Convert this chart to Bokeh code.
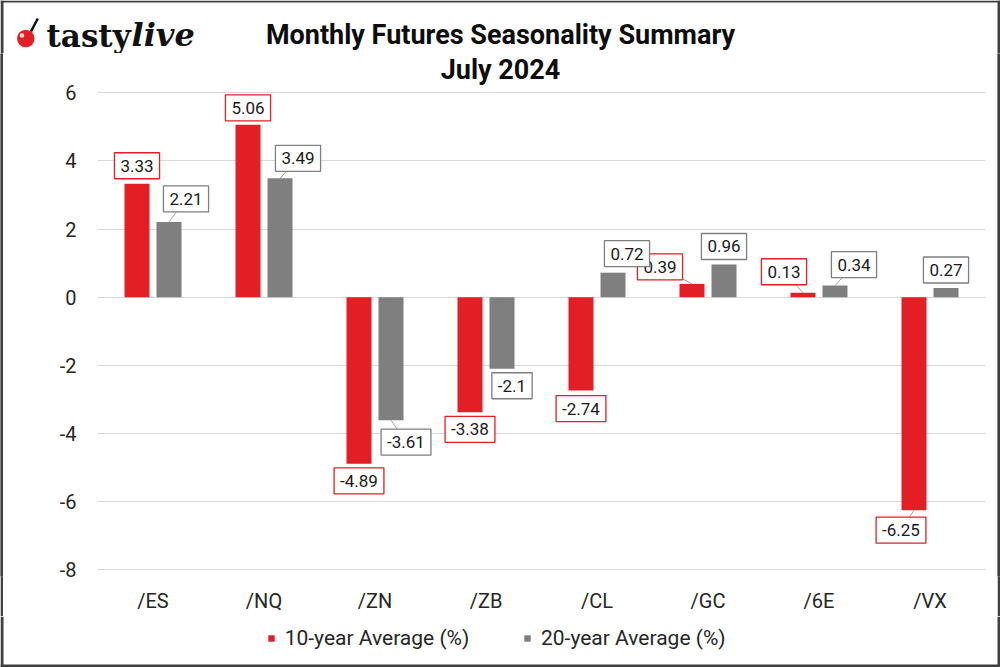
from bokeh.plotting import figure
from bokeh.layouts import column, row
from bokeh.models import Range1d, FixedTicker, Legend, LegendItem
from bokeh.core.properties import value
from bokeh.embed import file_html
from bokeh.resources import INLINE

# ---------------- data ----------------
CATEGORIES = ["/ES", "/NQ", "/ZN", "/ZB", "/CL", "/GC", "/6E", "/VX"]
TEN_YEAR = [3.33, 5.06, -4.89, -3.38, -2.74, 0.39, 0.13, -6.25]
TWENTY_YEAR = [2.21, 3.49, -3.61, -2.1, 0.72, 0.96, 0.34, 0.27]
Y_TICKS = [-8, -6, -4, -2, 0, 2, 4, 6]
SERIES_NAMES = ["10-year Average (%)", "20-year Average (%)"]
TITLE_LINES = ["Monthly Futures Seasonality Summary", "July 2024"]
LOGO = ["tasty", "live"]

# ---------------- label callout placement (screen px, dx right / dy up from bar end) ----------------
TEN_DX = [0, 0, 0, 0, 0, -32, -19, -13]
TEN_DY = [18, 17, -17, -17, -18, 17, 21, -20]
TWENTY_DX = [17, 18, 15, 10, 14, 0, 19, 0]
TWENTY_DY = [23, 20, -22, -17, 19, 18, 21, 18]
TEN_LEADER = [False, False, False, False, False, True, True, True]
TWENTY_LEADER = [True, True, True, False, False, False, True, False]

# ---------------- styles / page geometry (pixels) ----------------
RED = "#e31e24"
GREY = "#7f7f7f"
GRID = "#d9d9d9"
TEXT = "#1a1a1a"
EDGE = "#404040"
FONT = "Roboto"

TOTAL_W, TOTAL_H = 1000, 667
EDGE_W = 3
HEAD_H = 53
FRAME_BOTTOM_PAGE = 576
FOOT_TOP_PAGE = 616
ZERO_PAGE_Y = 296.7
UNIT_PX = 34.07
MAIN_W = TOTAL_W - 2 * EDGE_W
MAIN_H = FOOT_TOP_PAGE - HEAD_H
FOOT_H = TOTAL_H - FOOT_TOP_PAGE
LEFT, RIGHT, TOP = 94, 12, 0
BOTTOM = FOOT_TOP_PAGE - FRAME_BOTTOM_PAGE
FRAME_X0 = EDGE_W + LEFT      # page x of the plot frame's left edge
FRAME_Y0 = HEAD_H + TOP       # page y of the plot frame's top edge
Y1 = (ZERO_PAGE_Y - FRAME_Y0) / UNIT_PX
Y0 = (ZERO_PAGE_Y - FRAME_BOTTOM_PAGE) / UNIT_PX
N = len(CATEGORIES)
FW = MAIN_W - LEFT - RIGHT
FH = MAIN_H - TOP - BOTTOM
PX_X = FW / N
PX_Y = FH / (Y1 - Y0)
BAR_W = 25 / PX_X
BAR_OFF = 16 / PX_X


def blank(w, h, fill="white"):
    f = figure(width=w, height=h, output_backend="svg", toolbar_location=None,
               x_axis_type=None, y_axis_type=None, min_border=0,
               x_range=Range1d(0, max(w, 1)), y_range=Range1d(max(h, 1), 0))
    f.title.visible = False
    f.outline_line_color = None
    f.grid.visible = False
    f.background_fill_color = fill
    f.border_fill_color = fill
    return f


# ---------------- header (logo + first title line) ----------------
head = blank(TOTAL_W, HEAD_H)
head.quad(left=[0, 0, TOTAL_W - EDGE_W], right=[TOTAL_W, EDGE_W, TOTAL_W],
          top=[0, 0, 0], bottom=[2, HEAD_H, HEAD_H], fill_color=EDGE, line_color=None)
head.circle(x=[25.3], y=[38], radius=8.7, fill_color=RED, line_color=None)
head.circle(x=[21.5], y=[35], radius=2.2, fill_color="white", line_color=None, fill_alpha=0.85)
head.segment(x0=[30.5], y0=[31], x1=[37.3], y1=[18], line_color="#111111", line_width=2.5)
head.text(x=[46], y=[35], text=[LOGO[0]], text_align="left", text_baseline="middle",
          text_font=value("DejaVu Serif"), text_font_style="bold",
          text_font_size=value("31px"), text_color="#111111")
head.text(x=[131], y=[34], text=[LOGO[1]], text_align="left", text_baseline="middle",
          text_font=value("DejaVu Serif"), text_font_style="bold italic",
          text_font_size=value("32px"), text_color="#111111")
head.text(x=[500], y=[34], text=[TITLE_LINES[0]], text_align="center",
          text_baseline="middle", text_font=value(FONT), text_font_style="bold",
          text_font_size=value("27px"), text_color="#0d0d0d")

# ---------------- main chart ----------------
p = figure(width=MAIN_W, height=MAIN_H, output_backend="svg", toolbar_location=None,
           x_range=Range1d(0, N), y_range=Range1d(Y0, Y1),
           min_border_left=LEFT, min_border_right=RIGHT,
           min_border_top=TOP, min_border_bottom=BOTTOM)
p.title.visible = False
p.outline_line_color = None
p.background_fill_color = "white"
p.border_fill_color = "white"

centers = [i + 0.5 for i in range(N)]
p.xaxis.ticker = FixedTicker(ticks=centers)
p.xaxis.major_label_overrides = {c: name for c, name in zip(centers, CATEGORIES)}
p.yaxis.ticker = FixedTicker(ticks=Y_TICKS)
p.yaxis.major_label_overrides = {t: str(t) for t in Y_TICKS}
for ax in p.axis:
    ax.axis_line_color = None
    ax.major_tick_line_color = None
    ax.minor_tick_line_color = None
    ax.major_tick_out = 0
    ax.major_tick_in = 0
    ax.minor_tick_out = 0
    ax.minor_tick_in = 0
    ax.major_label_text_font = FONT
    ax.major_label_text_font_size = "20px"
    ax.major_label_text_color = "#262626"
p.xaxis.major_label_standoff = 12
p.yaxis.major_label_standoff = 21
p.xgrid.visible = False
p.ygrid.grid_line_color = GRID
p.ygrid.grid_line_width = 1

# second title line lives inside the chart frame (page position converted to data space)
p.text(x=[(500 - FRAME_X0) / PX_X], y=[Y1 - (69 - FRAME_Y0) / PX_Y], text=[TITLE_LINES[1]],
       text_align="center", text_baseline="middle", text_font=value(FONT),
       text_font_style="bold", text_font_size=value("27px"), text_color="#0d0d0d")

red_x = [c - BAR_OFF for c in centers]
grey_x = [c + BAR_OFF for c in centers]
r10 = p.vbar(x=red_x, top=TEN_YEAR, bottom=0, width=BAR_W, fill_color=RED, line_color=None)
r20 = p.vbar(x=grey_x, top=TWENTY_YEAR, bottom=0, width=BAR_W, fill_color=GREY, line_color=None)


def text_width(s, size=17):
    w = 0
    for ch in s:
        if ch == ".":
            w += 0.263
        elif ch == "-":
            w += 0.276
        else:
            w += 0.562
    return w * size


def draw_labels(xs, vals, dxs, dys, leaders, color):
    lx = [x + dx / PX_X for x, dx in zip(xs, dxs)]
    ly = [v + dy / PX_Y for v, dy in zip(vals, dys)]
    texts = [f"{v:g}" for v in vals]
    sx0 = [x for x, l in zip(xs, leaders) if l]
    sy0 = [v for v, l in zip(vals, leaders) if l]
    sx1 = [x for x, l in zip(lx, leaders) if l]
    sy1 = [y for y, l in zip(ly, leaders) if l]
    p.segment(x0=sx0, y0=sy0, x1=sx1, y1=sy1, line_color="#a6a6a6", line_width=1)
    p.rect(x=lx, y=ly, width=[text_width(t) + 12 for t in texts], height=26,
           width_units="screen", height_units="screen",
           fill_color="white", line_color=color, line_width=1.3)
    p.text(x=lx, y=ly, text=texts, text_align="center", text_baseline="middle",
           text_font=value(FONT), text_font_size=value("17px"), text_color=TEXT)


draw_labels(red_x, TEN_YEAR, TEN_DX, TEN_DY, TEN_LEADER, RED)
draw_labels(grey_x, TWENTY_YEAR, TWENTY_DX, TWENTY_DY, TWENTY_LEADER, GREY)

# ---------------- footer with legend ----------------
foot = blank(TOTAL_W, FOOT_H)
foot.quad(left=[0, 0, TOTAL_W - EDGE_W], right=[TOTAL_W, EDGE_W, TOTAL_W],
          top=[FOOT_H - EDGE_W, 0, 0], bottom=[FOOT_H, FOOT_H, FOOT_H],
          fill_color=EDGE, line_color=None)
# legend proxies: same series, hidden in the footer (only their swatches are shown)
k10 = foot.vbar(x=red_x, top=TEN_YEAR, bottom=0, width=BAR_W, fill_color=RED,
                line_color=None, visible=False)
k20 = foot.vbar(x=grey_x, top=TWENTY_YEAR, bottom=0, width=BAR_W, fill_color=GREY,
                line_color=None, visible=False)

LEGEND_X = [266.7, 523]
for name, rend, lx0 in zip(SERIES_NAMES, [k10, k20], LEGEND_X):
    lg = Legend(items=[LegendItem(label=name, renderers=[rend])],
                orientation="horizontal", location=(lx0, FOOT_H - 22 - 12),
                glyph_width=8, glyph_height=8, label_standoff=10,
                padding=0, margin=0, border_line_color=None, background_fill_alpha=0,
                inactive_fill_alpha=0,
                label_text_font=FONT, label_text_font_size="21px", label_height=24,
                label_text_color="#262626")
    foot.add_layout(lg)


def strip(w, h):
    f = blank(w, h, EDGE)
    f.quad(left=[0], right=[w], top=[0], bottom=[h], fill_color=EDGE, line_color=None)
    return f


layout = column(head,
                row(strip(EDGE_W, MAIN_H), p, strip(EDGE_W, MAIN_H), spacing=0),
                foot,
                spacing=0)

open("out.html", "w").write(file_html(layout, INLINE))
